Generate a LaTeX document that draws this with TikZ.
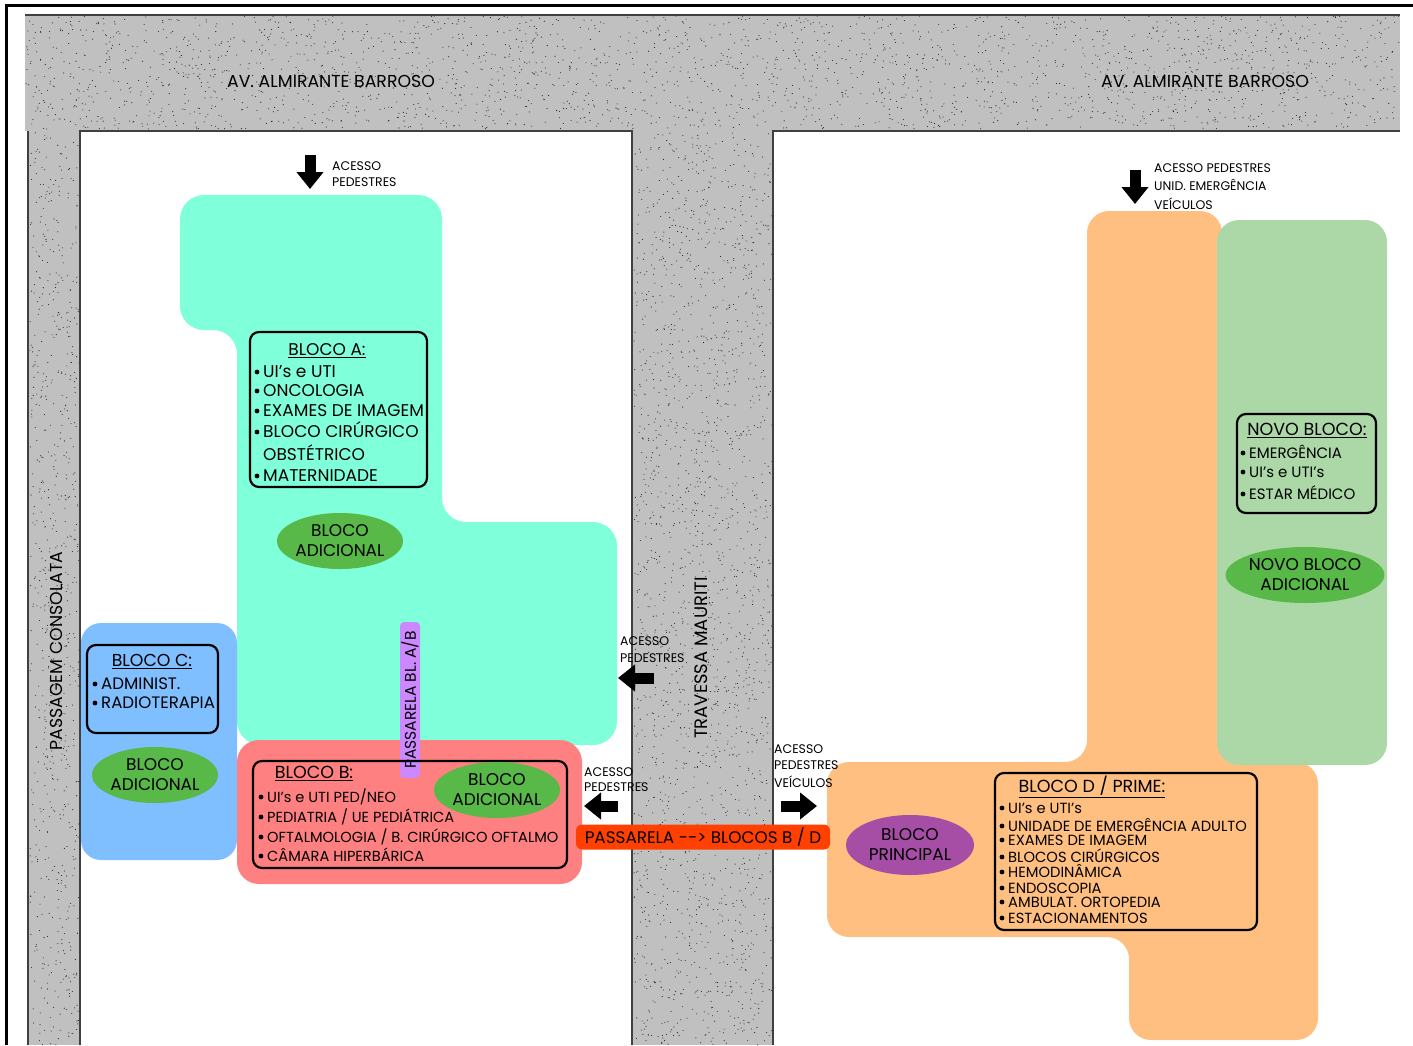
\documentclass[tikz,border=0pt]{standalone}
\usepackage{fontspec}
\setmainfont{Poppins}
\usetikzlibrary{arrows.meta,shapes.geometric}
\definecolor{roadgray}{RGB}{192,192,192}
\definecolor{cyanA}{RGB}{127,255,218}
\definecolor{blueC}{RGB}{128,191,255}
\definecolor{pinkB}{RGB}{255,128,128}
\definecolor{orangeD}{RGB}{255,191,128}
\definecolor{greenN}{RGB}{172,216,168}
\definecolor{ellgreen}{RGB}{88,184,72}
\definecolor{ellpurple}{RGB}{166,77,166}
\definecolor{violetP}{RGB}{204,136,255}
\definecolor{redP}{RGB}{255,64,0}
\newcommand\myitem[4]{%
  \fill (#2-6,#3) circle (2.4pt);
  \node[item] (#1) at (#2,#3) {#4};}
\newcommand\fsz[1]{\fontsize{#1}{#1}\selectfont}
\begin{document}
\begin{tikzpicture}[x=1pt,y=-1pt,
  roadline/.style={draw=black!75,line width=1.2pt},
  blockbox/.style={draw=black,line width=2.2pt,rounded corners=9pt,inner sep=0pt},
  ell/.style={ellipse,inner sep=0pt,align=center,minimum width=126pt,minimum height=56pt,font=\fontsize{17}{20}\selectfont},
  item/.style={anchor=west,inner sep=0pt,text height=0.7em,text depth=0pt,yshift=-2pt},
  ttl/.style={inner sep=0pt,text height=0.7em,text depth=0pt,yshift=-2pt},
  small/.style={inner sep=0pt,anchor=west,text height=0.7em,text depth=0pt,yshift=-1.5pt,font=\fsz{12.5}},
  blkarrow/.style={line width=11pt,-{Triangle[width=26pt,length=17pt]}}]
\useasboundingbox (0,0) rectangle (1413,1045);
\fill[white] (0,0) rectangle (1413,1045);
% roads
\fill[roadgray] (25,15) rectangle (1400,131);
\fill[roadgray] (28,130) rectangle (80,1045);
\fill[roadgray] (632,130) rectangle (773,1045);
\pgfmathsetseed{12}
\foreach \i in {1,...,2400}{\fill[black!85] ({26+1373*rnd},{16+113*rnd}) circle (0.55pt);}
\foreach \i in {1,...,700}{\fill[black!85] ({30+49*rnd},{132+913*rnd}) circle (0.55pt);}
\foreach \i in {1,...,2000}{\fill[black!85] ({634+138*rnd},{132+913*rnd}) circle (0.55pt);}
\draw[roadline] (25,15) -- (1400,15);
\draw[roadline] (28,1045) -- (28,131);
\draw[roadline] (80,1045) -- (80,131) -- (632,131) -- (632,1045);
\draw[roadline] (773,1045) -- (773,131) -- (1400,131);
\draw[line width=3pt] (6,1045) -- (6,5) -- (1413,5);
% road names
\node[font=\fsz{17.3}] (av1) at (331,81) {AV. ALMIRANTE BARROSO};
\node[font=\fsz{17.3}] (av2) at (1205,81) {AV. ALMIRANTE BARROSO};
\node[rotate=90,font=\fsz{17.3}] (pc) at (56,651) {PASSAGEM CONSOLATA};
\node[rotate=90,font=\fsz{18}] (tm) at (701,658) {TRAVESSA MAURITI};
% coloured areas
\fill[cyanA,rounded corners=24pt] (180,195) -- (442,195) -- (442,522) -- (617,522) -- (617,745) -- (237,745) -- (237,330) -- (180,330) -- cycle;
\fill[blueC,rounded corners=20pt] (81,623) rectangle (237,860);
\fill[pinkB,rounded corners=22pt] (237,740) rectangle (582,884);
\fill[orangeD,rounded corners=22pt] (1087,211) -- (1222,211) -- (1222,762) -- (1318,762) -- (1318,1040) -- (1129,1040) -- (1129,937) -- (827,937) -- (827,762) -- (1087,762) -- cycle;
\fill[greenN,rounded corners=22pt] (1217,220) rectangle (1387,765);
% passarelas
\node[fill=violetP,rounded corners=4pt,rotate=90,minimum width=156pt,minimum height=20pt,inner sep=0pt,font=\fsz{15.5}] (pab) at (410,700) {PASSARELA BL. A/B};
\node[fill=redP,rounded corners=6pt,minimum width=254pt,minimum height=25pt,inner sep=0pt,font=\fsz{16.8}] (pbd) at (703,837) {PASSARELA {-}{-}> BLOCOS B / D};
% text boxes
\node[blockbox,minimum width=177pt,minimum height=155pt] (boxA) at (338.5,409.5) {};
\node[ttl,font=\fsz{17}] (tA) at (327,350) {\underline{BLOCO A:}};
\begin{scope}[every node/.append style={font=\fsz{17}}]
\myitem{a1}{263}{372}{UI's e UTI}
\myitem{a2}{263}{391}{ONCOLOGIA}
\myitem{a3}{263}{411}{EXAMES DE IMAGEM}
\myitem{a4}{263}{432}{BLOCO CIRÚRGICO}
\node[item] (a5) at (263,455) {OBSTÉTRICO};
\myitem{a6}{263}{476}{MATERNIDADE}
\end{scope}
\node[blockbox,minimum width=131pt,minimum height=88pt] (boxC) at (152.5,689) {};
\node[ttl,font=\fsz{17.3}] (tC) at (152,661) {\underline{BLOCO C:}};
\begin{scope}[every node/.append style={font=\fsz{16.6}}]
\myitem{c1}{101}{684}{ADMINIST.}
\myitem{c2}{101}{703}{RADIOTERAPIA}
\end{scope}
\node[blockbox,minimum width=314pt,minimum height=107pt] (boxB) at (410,814.5) {};
\node[ttl,font=\fsz{17.5}] (tB) at (314,773) {\underline{BLOCO B:}};
\begin{scope}[every node/.append style={font=\fsz{14.6}}]
\myitem{b1}{267}{797}{UI's e UTI PED/NEO}
\myitem{b2}{267}{817}{PEDIATRIA / UE PEDIÁTRICA}
\myitem{b3}{267}{837}{OFTALMOLOGIA / B. CIRÚRGICO OFTALMO}
\myitem{b4}{267}{856}{CÂMARA HIPERBÁRICA}
\end{scope}
\node[blockbox,minimum width=262pt,minimum height=157pt] (boxD) at (1126,851.5) {};
\node[ttl,font=\fsz{17.5}] (tD) at (1092,787) {\underline{BLOCO D / PRIME:}};
\begin{scope}[every node/.append style={font=\fsz{14.7}}]
\myitem{d1}{1008}{808}{UI's e UTI's}
\myitem{d2}{1008}{826}{UNIDADE DE EMERGÊNCIA ADULTO}
\myitem{d3}{1008}{840}{EXAMES DE IMAGEM}
\myitem{d4}{1008}{857}{BLOCOS CIRÚRGICOS}
\myitem{d5}{1008}{872}{HEMODINÂMICA}
\myitem{d6}{1008}{888}{ENDOSCOPIA}
\myitem{d7}{1008}{902}{AMBULAT. ORTOPEDIA}
\myitem{d8}{1008}{918}{ESTACIONAMENTOS}
\end{scope}
\node[blockbox,minimum width=139pt,minimum height=99pt] (boxN) at (1306.5,463.5) {};
\node[ttl,font=\fsz{17.5}] (tN) at (1307,430) {\underline{NOVO BLOCO:}};
\begin{scope}[every node/.append style={font=\fsz{15}}]
\myitem{n1}{1249}{453}{EMERGÊNCIA}
\myitem{n2}{1249}{472}{UI's e UTI's}
\myitem{n3}{1249}{494}{ESTAR MÉDICO}
\end{scope}
% ellipses
\node[ell,fill=ellgreen] (eA) at (340,541) {BLOCO\\ADICIONAL};
\node[ell,fill=ellgreen] (eC) at (155,775) {BLOCO\\ADICIONAL};
\node[ell,fill=ellgreen] (eB) at (497,790) {BLOCO\\ADICIONAL};
\node[ell,fill=ellgreen] (eN) at (1305,575) {NOVO BLOCO\\ADICIONAL};
\node[ell,fill=ellpurple,minimum width=128pt,minimum height=60pt] (eP) at (910,845) {BLOCO\\PRINCIPAL};
% access arrows
\coordinate (ar1s) at (310,155); \coordinate (ar1e) at (310,189);
\draw[blkarrow] (ar1s) -- (ar1e);
\node[small] (l1a) at (332,165) {ACESSO};
\node[small] (l1b) at (332,181) {PEDESTRES};
\coordinate (ar2s) at (1135,170); \coordinate (ar2e) at (1135,204);
\draw[blkarrow] (ar2s) -- (ar2e);
\node[small] (l2a) at (1154,167) {ACESSO PEDESTRES};
\node[small] (l2b) at (1154,185) {UNID. EMERGÊNCIA};
\node[small] (l2c) at (1154,204) {VEÍCULOS};
\coordinate (ar3s) at (654,678); \coordinate (ar3e) at (618,678);
\draw[blkarrow] (ar3s) -- (ar3e);
\node[small] (l3a) at (620,640) {ACESSO};
\node[small] (l3b) at (620,657) {PEDESTRES};
\coordinate (ar4s) at (618,806); \coordinate (ar4e) at (584,806);
\draw[blkarrow] (ar4s) -- (ar4e);
\node[small] (l4a) at (584,771) {ACESSO};
\node[small] (l4b) at (584,786) {PEDESTRES};
\coordinate (ar5s) at (781,806); \coordinate (ar5e) at (817,806);
\draw[blkarrow] (ar5s) -- (ar5e);
\node[small] (l5a) at (774,748) {ACESSO};
\node[small] (l5b) at (774,764) {PEDESTRES};
\node[small] (l5c) at (774,782) {VEÍCULOS};
\end{tikzpicture}
\end{document}
